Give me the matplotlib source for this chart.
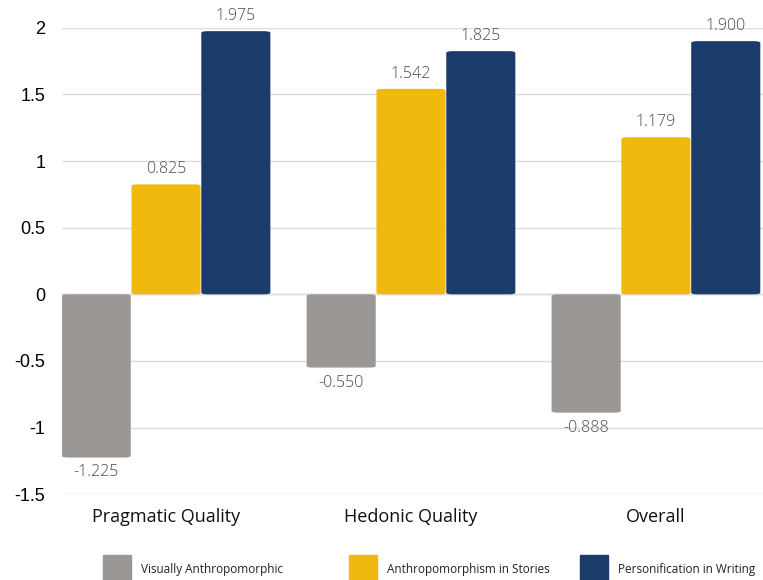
import matplotlib.pyplot as plt
from matplotlib.patches import Rectangle, FancyBboxPatch
import numpy as np

categories = ["Pragmatic Quality", "Hedonic Quality", "Overall"]
series_names = ["Visually Anthropomorphic", "Anthropomorphism in Stories", "Personification in Writing"]
visually = [-1.225, -0.550, -0.888]
stories = [0.825, 1.542, 1.179]
writing = [1.975, 1.825, 1.900]
colors = ["#9b9795", "#f0b90f", "#1b3c6a"]

plt.rcParams["font.family"] = ["Open Sans", "DejaVu Sans"]

fig = plt.figure(figsize=(7.63, 5.80), dpi=100)
ax = fig.add_axes([0.0813, 0.148, 0.9187, 0.804])

x = np.arange(len(categories))
width = 0.282
offsets = [-0.285, 0.0, 0.285]
values = [visually, stories, writing]

for vals, off, col in zip(values, offsets, colors):
    bars = ax.bar(x + off, vals, width, color=col, zorder=2)
    for b, v in zip(bars, vals):
        # rounded corners
        b.set_visible(False)
        xb, yb = b.get_x(), b.get_y()
        h = b.get_height()
        p = FancyBboxPatch((xb, min(yb, yb + h)), width, abs(h),
                           boxstyle="round,pad=0,rounding_size=0.025",
                           mutation_aspect=0.54, color=col, lw=0, zorder=2)
        ax.add_patch(p)
        if v >= 0:
            ax.annotate(f"{v:.3f}", (xb + width / 2, v), xytext=(0, 5),
                        textcoords="offset points", ha="center", va="bottom",
                        fontsize=11.5, color="#4a4a4a", fontweight="light")
        else:
            ax.annotate(f"{v:.3f}", (xb + width / 2, v), xytext=(0, -5),
                        textcoords="offset points", ha="center", va="top",
                        fontsize=11.5, color="#4a4a4a", fontweight="light")

ax.set_xlim(-0.4245, 2.437)
ax.set_ylim(-1.5, 2)
ax.set_yticks([-1.5, -1, -0.5, 0, 0.5, 1, 1.5, 2])
ax.set_yticklabels(["-1.5", "-1", "-0.5", "0", "0.5", "1", "1.5", "2"],
                   family="Liberation Sans", fontsize=13)
ax.set_xticks(x)
ax.set_xticklabels(categories, fontsize=13, color="#111111")
ax.tick_params(axis="both", length=0)
ax.tick_params(axis="y", pad=12)
ax.tick_params(axis="x", pad=10)
ax.grid(axis="y", color="#dddddd", lw=1, zorder=0)
for s in ax.spines.values():
    s.set_visible(False)
ax.axhline(0, color="#cccccc", lw=1, zorder=1)

legend_x = [103, 349, 580]
for name, col, lx in zip(series_names, colors, legend_x):
    fig.add_artist(Rectangle((lx / 763, 0), 28 / 763, 25 / 580,
                             transform=fig.transFigure, color=col))
    fig.text((lx + 38) / 763, 10 / 580, name, fontsize=8.5,
             va="center", ha="left", color="#222222")

fig.savefig("out.png", dpi=100)
